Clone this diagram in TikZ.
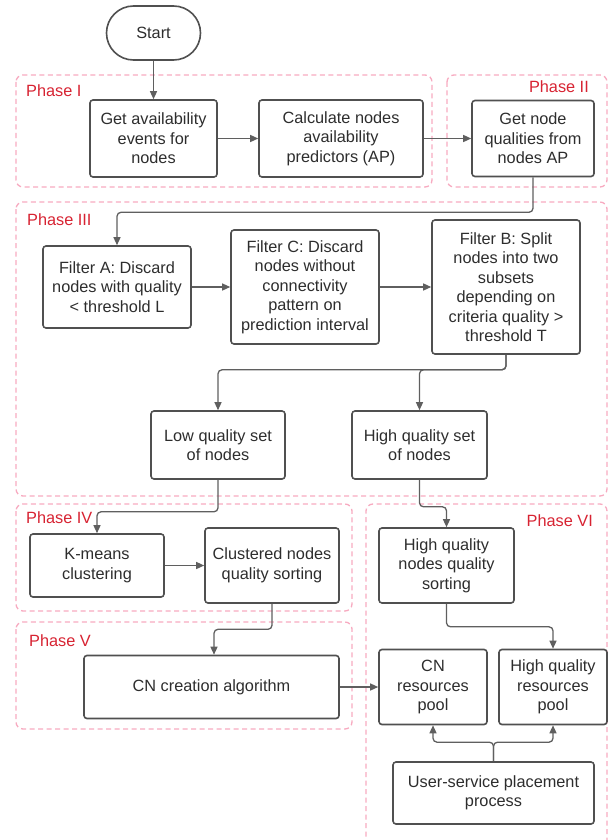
\documentclass[tikz,border=0pt]{standalone}
\usepackage{fontspec}
\setmainfont{Liberation Sans}
\usetikzlibrary{arrows.meta}

\definecolor{boxline}{RGB}{80,80,80}
\definecolor{arrowline}{RGB}{95,95,95}
\definecolor{phasepink}{RGB}{247,170,192}
\definecolor{phasered}{RGB}{215,35,50}
\definecolor{textgray}{RGB}{45,45,45}

\tikzset{
  stepbox/.style={draw=boxline, line width=1.6pt, rounded corners=3pt, align=center,
    inner sep=0pt, text=textgray, font=\fontsize{16.3}{19.5}\selectfont},
  phasebox/.style={draw=phasepink, line width=1.3pt, dash pattern=on 5pt off 3.5pt,
    rounded corners=7pt},
  phaselabel/.style={text=phasered, font=\fontsize{16.3}{19.5}\selectfont, inner sep=0pt},
  flow/.style={draw=arrowline, line width=1.3pt, rounded corners=4pt,
    -{Triangle[length=8pt,width=7pt]}},
}

\begin{document}
\begin{tikzpicture}[x=1pt,y=-1pt]
\useasboundingbox (0,0) rectangle (609,840);

% phase frames
\draw[phasebox] (16,75) rectangle (432,187);
\draw[phasebox] (447,75) rectangle (607,187);
\draw[phasebox] (16,202) rectangle (607,496);
\draw[phasebox] (16,504) rectangle (352,611);
\draw[phasebox] (16,622) rectangle (352,729);
\draw[phasebox] (366,845) -- (366,504) -- (607,504) -- (607,845);

% phase labels
\node[phaselabel, anchor=west] (lab1) at (26,91) {Phase I};
\node[phaselabel, anchor=east] (lab2) at (589,87) {Phase II};
\node[phaselabel, anchor=west] (lab3) at (27,220) {Phase III};
\node[phaselabel, anchor=west] (lab4) at (26,518) {Phase IV};
\node[phaselabel, anchor=west] (lab5) at (29,641) {Phase V};
\node[phaselabel, anchor=east] (lab6) at (593,521) {Phase VI};

% steps
\node[stepbox, rounded corners=27pt, minimum width=94pt, minimum height=54pt] (start) at (153.5,33) {Start};
\node[stepbox, minimum width=127pt, minimum height=77pt] (avail) at (153.5,138.5) {Get availability\\events for\\nodes};
\node[stepbox, minimum width=164pt, minimum height=77pt] (calc) at (341,138.5) {Calculate nodes\\availability\\predictors (AP)};
\node[stepbox, minimum width=122pt, minimum height=76pt] (qual) at (533,138.5) {Get node\\qualities from\\nodes AP};

\node[stepbox, minimum width=148pt, minimum height=82pt] (filterA) at (117,287) {Filter A: Discard\\nodes with quality\\< threshold L};
\node[stepbox, minimum width=148pt, minimum height=114pt] (filterC) at (305,287) {Filter C: Discard\\nodes without\\connectivity\\pattern on\\prediction interval};
\node[stepbox, minimum width=148pt, minimum height=134pt] (filterB) at (506,287) {Filter B: Split\\nodes into two\\subsets\\depending on\\criteria quality >\\threshold T};

\node[stepbox, minimum width=134pt, minimum height=68pt] (low) at (218,445) {Low quality set\\of nodes};
\node[stepbox, minimum width=135pt, minimum height=68pt] (high) at (419.5,445) {High quality set\\of nodes};

\node[stepbox, minimum width=134pt, minimum height=63pt] (kmeans) at (97,565.5) {K-means\\clustering};
\node[stepbox, minimum width=134pt, minimum height=75pt] (clustered) at (272,565.5) {Clustered nodes\\quality sorting};
\node[stepbox, minimum width=135pt, minimum height=75pt] (hqsort) at (446.5,565.5) {High quality\\nodes quality\\sorting};

\node[stepbox, minimum width=255pt, minimum height=63pt] (cncreate) at (211.5,687) {CN creation algorithm};
\node[stepbox, minimum width=108pt, minimum height=75pt] (cnpool) at (433,687) {CN\\resources\\pool};
\node[stepbox, minimum width=108pt, minimum height=75pt] (hqpool) at (553,687) {High quality\\resources\\pool};
\node[stepbox, minimum width=201pt, minimum height=62pt] (user) at (493.5,793) {User-service placement\\process};

% connectors
\draw[flow] (start) -- (avail);
\draw[flow] (avail) -- (calc);
\draw[flow] (calc) -- (qual);
\draw[flow] (qual.south) -- ++(0,35) -| (filterA.north);
\draw[flow] (filterA) -- (filterC);
\draw[flow] (filterC) -- (filterB);
\draw[flow] (filterB.south) -- ++(0,15) -| (low.north);
\draw[flow] (filterB.south) -- ++(0,15) -| (high.north);
\draw[flow] (low.south) -- ++(0,32) -| (kmeans.north);
\draw[flow] (high.south) -- ++(0,27) -| (hqsort.north);
\draw[flow] (kmeans) -- (clustered);
\draw[flow] (clustered.south) -- ++(0,25.5) -| ([xshift=2.5pt]cncreate.north);
\draw[flow] (cncreate) -- (cnpool);
\draw[flow] (hqsort.south) -- ++(0,23) -| (hqpool.north);
\draw[flow] (user.north) -- ++(0,-19) -| (cnpool.south);
\draw[flow] (user.north) -- ++(0,-19) -| (hqpool.south);
\end{tikzpicture}
\end{document}
